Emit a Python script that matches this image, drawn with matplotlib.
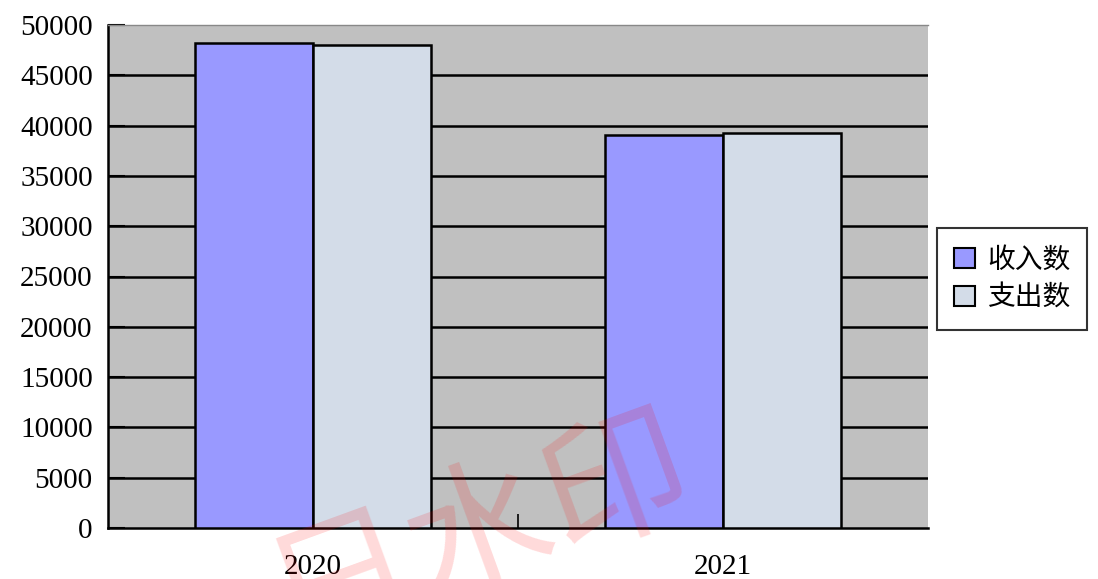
import matplotlib
matplotlib.use("Agg")
import matplotlib.pyplot as plt
import numpy as np
from matplotlib.patches import Patch

categories = ["2020", "2021"]
series_names = ["收入数", "支出数"]
income = [48200, 39100]
expense = [48000, 39250]
yticks = [0, 5000, 10000, 15000, 20000, 25000, 30000, 35000, 40000, 45000, 50000]

plt.rcParams['font.family'] = ['Liberation Serif', 'Noto Sans CJK SC']

fig = plt.figure(figsize=(10.98, 5.79), dpi=100)
ax = fig.add_axes([108/1098, 51/579, 820/1098, 503/579])
ax.set_facecolor('#C0C0C0')

x = np.arange(len(categories))
w = 0.2875
colors = ['#9999FF', '#D3DCE8']
ax.bar(x - w/2, income, width=w, color=colors[0], edgecolor='black', linewidth=1.8, zorder=3)
ax.bar(x + w/2, expense, width=w, color=colors[1], edgecolor='black', linewidth=1.8, zorder=3)

ax.set_xlim(-0.5, 1.5)
ax.set_ylim(0, 50000)
ax.set_yticks(yticks)
ax.set_yticklabels([str(v) for v in yticks], fontsize=21)
for v in yticks[1:-1]:
    ax.axhline(v, color='black', linewidth=1.8, zorder=1)

ax.set_xticks(x)
ax.set_xticklabels(categories, fontsize=21)
ax.tick_params(axis='x', length=0, pad=19)
ax.set_xticks([0.5], minor=True)
ax.tick_params(axis='x', which='minor', direction='in', length=10, width=1.2, color='black')
ax.tick_params(axis='y', direction='in', length=12, width=1.5, pad=11, color='black')

for s in ['left', 'bottom']:
    ax.spines[s].set_color('black')
    ax.spines[s].set_linewidth(1.8)
ax.spines['right'].set_visible(False)
ax.spines['top'].set_color('#888888')
ax.spines['top'].set_linewidth(1.0)

handles = [Patch(facecolor=colors[i], edgecolor='black', linewidth=1.5, label=series_names[i]) for i in range(2)]
leg = fig.legend(handles=handles, loc='upper left', bbox_to_anchor=(937/1098, 1 - 228/579),
                 prop={'family': ['Noto Sans CJK SC'], 'size': 20}, frameon=True, fancybox=False,
                 edgecolor='black', handlelength=0.75, handleheight=0.75, handletextpad=0.45,
                 borderpad=0.6, labelspacing=0.3, borderaxespad=0)
leg.get_frame().set_linewidth(1.5)

fig.text(480/1098, 1 - 530/579, "日水印", fontsize=105, color='red', alpha=0.15,
         rotation=20, ha='center', va='center', rotation_mode='anchor',
         family=['Noto Sans CJK SC'], zorder=10)

fig.savefig("out.png", dpi=100)
